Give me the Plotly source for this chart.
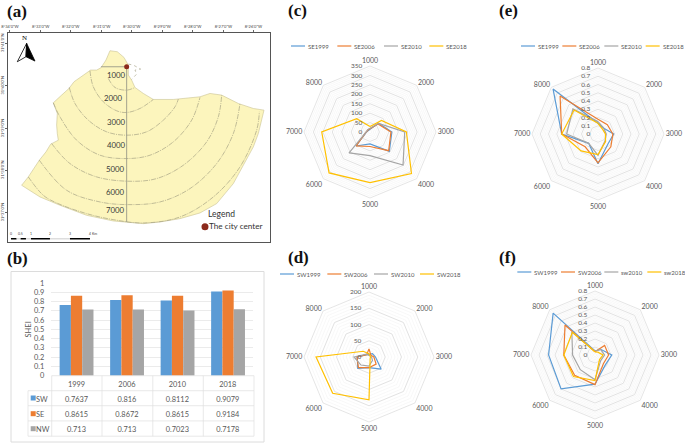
import plotly.graph_objects as go

W, H = 685, 444

# (a) map, in reference crop units (3x zoom of the picture)
boundary_x = [330, 352, 372, 385, 385, 395, 405, 430, 460, 520, 600, 630, 665, 715, 760, 792, 775, 760, 700, 650, 600, 540, 480, 430, 340, 260, 180, 120, 65, 85, 118, 138, 152, 175, 172, 170, 172, 160, 185, 207, 222, 245, 272, 290, 303, 318, 330]
boundary_y = [152, 155, 172, 195, 225, 240, 262, 280, 298, 298, 290, 280, 285, 310, 325, 330, 400, 440, 550, 610, 638, 655, 665, 670, 662, 645, 615, 590, 555, 530, 480, 455, 432, 420, 400, 375, 340, 308, 285, 265, 245, 228, 210, 210, 203, 180, 152]
ring1000_x = [325, 345, 380, 405]
ring1000_y = [235, 262, 270, 262]
ring2000_x = [270, 280, 310, 350, 380, 420, 460]
ring2000_y = [212, 260, 305, 332, 337, 325, 298]
ring3000_x = [208, 225, 265, 320, 380, 440, 490, 525, 535]
ring3000_y = [262, 310, 360, 395, 405, 395, 360, 320, 297]
ring4000_x = [160, 180, 230, 300, 380, 450, 520, 575, 600]
ring4000_y = [308, 350, 420, 465, 475, 465, 425, 360, 292]
ring5000_x = [155, 210, 290, 390, 470, 550, 620, 655, 665]
ring5000_y = [430, 490, 530, 543, 535, 495, 425, 350, 285]
ring6000_x = [118, 200, 300, 385, 480, 570, 650, 700, 720]
ring6000_y = [480, 570, 605, 613, 605, 565, 490, 400, 310]
ring7000_x = [85, 130, 170, 260, 340, 430, 540, 640, 720, 770, 778]
ring7000_y = [530, 585, 608, 640, 658, 668, 650, 590, 500, 390, 335]
rings = [(ring1000_x, ring1000_y), (ring2000_x, ring2000_y), (ring3000_x, ring3000_y), (ring4000_x, ring4000_y),
         (ring5000_x, ring5000_y), (ring6000_x, ring6000_y), (ring7000_x, ring7000_y)]
loop_x = [385, 400, 422, 405, 410, 395]
loop_y = [192, 195, 207, 210, 222, 238]
axis_x = [303, 380, 380]
axis_y = [200, 200, 665]
center_x = [380]
center_y = [200]
ring_labels = ["1000", "2000", "3000", "4000", "5000", "6000", "7000"]
ring_label_x = [350, 341, 349, 349, 347, 346, 347]
ring_label_y = [225, 294, 365, 434, 506, 574, 630]
lon_ticks = [30, 122, 212, 305, 395, 487, 578, 670, 760]
lon_labels = ["8°34'0\"W", "8°33'0\"W", "8°32'0\"W", "8°31'0\"W", "8°30'0\"W", "8°29'0\"W", "8°28'0\"W", "8°27'0\"W", "8°26'0\"W"]
lat_ticks = [130, 257, 385, 510, 637]
lat_labels = ["31°41'0\"N", "31°40'0\"N", "31°39'0\"N", "31°38'0\"N", "31°37'0\"N"]

# (b) SHEI
years = ["1999", "2006", "2010", "2018"]
shei_sw = [0.7637, 0.816, 0.8112, 0.9079]
shei_se = [0.8615, 0.8672, 0.8615, 0.9184]
shei_nw = [0.713, 0.713, 0.7023, 0.7178]
row_names = ["SW", "SE", "NW"]

distances = ["1000", "2000", "3000", "4000", "5000", "6000", "7000", "8000"]

# (c)
se_area_1999 = [15, 65, 116, 145, 63, 105, 18, 12]
se_area_2006 = [17, 60, 111, 140, 77, 104, 20, 15]
se_area_2010 = [20, 65, 184, 248, 125, 157, 20, 18]
se_area_2018 = [29, 86, 193, 311, 268, 307, 256, 100]
# (d)
sw_area_1999 = [8, 15, 20, 53, 33, 49, 36, 10]
sw_area_2006 = [25, 8, 15, 31, 33, 46, 37, 10]
sw_area_2010 = [5, 5, 8, 15, 28, 35, 46, 12]
sw_area_2018 = [10, 5, 5, 5, 132, 158, 163, 25]
# (e)
se_shei_1999 = [0.13, 0.1, 0.19, 0.17, 0.36, 0.16, 0.44, 0.77]
se_shei_2006 = [0.18, 0.16, 0.18, 0.22, 0.35, 0.22, 0.44, 0.65]
se_shei_2010 = [0.15, 0.1, 0.1, 0.12, 0.26, 0.16, 0.38, 0.43]
se_shei_2018 = [0.13, 0.08, 0.09, 0.13, 0.25, 0.29, 0.44, 0.41]
# (f)
sw_shei_1999 = [0.05, 0.1, 0.21, 0.18, 0.365, 0.6, 0.58, 0.74]
sw_shei_2006 = [0.04, 0.17, 0.17, 0.15, 0.37, 0.36, 0.39, 0.53]
sw_shei_2010 = [0.05, 0.1, 0.12, 0.1, 0.31, 0.26, 0.28, 0.41]
sw_shei_2018 = [0.04, 0.05, 0.1, 0.08, 0.32, 0.38, 0.39, 0.4]

BLUE, ORANGE, GRAY, YELLOW = "#5b9bd5", "#ed7d31", "#a5a5a5", "#ffc000"
TEXT = "#595959"
RULE = "#e0e0e0"
FONT = "Lato, Open Sans, sans-serif"


def px(x):
    return x / W


def py(y):
    return 1 - y / H


fig = go.Figure()

# (a)
fig.add_trace(go.Scatter(x=boundary_x, y=boundary_y, mode="lines", fill="toself", fillcolor="#fcf5bd",
                         line=dict(color="#c9c294", width=0.6), xaxis="x", yaxis="y", hoverinfo="skip"))
for rx, ry in rings:
    fig.add_trace(go.Scatter(x=rx, y=ry, mode="lines",
                             line=dict(color="#85826f", width=0.5, dash="5px,1px,1px,1px", shape="spline"),
                             xaxis="x", yaxis="y", hoverinfo="skip"))
fig.add_trace(go.Scatter(x=loop_x, y=loop_y, mode="lines", line=dict(color="#a09c80", width=0.6, dash="dot"), xaxis="x", yaxis="y"))
fig.add_trace(go.Scatter(x=axis_x, y=axis_y, mode="lines", line=dict(color="#9a9a88", width=0.9), xaxis="x", yaxis="y"))
fig.add_trace(go.Scatter(x=center_x, y=center_y, mode="markers", marker=dict(color="#8c2a1c", size=5), xaxis="x", yaxis="y"))
fig.add_trace(go.Scatter(x=[615], y=[679], mode="markers", marker=dict(color="#8c2a1c", size=7), xaxis="x", yaxis="y"))
# north arrow
fig.add_trace(go.Scatter(x=[80, 52, 78, 80], y=[130, 185, 170, 130], mode="lines", fill="toself", fillcolor="white",
                         line=dict(color="black", width=0.8), xaxis="x", yaxis="y"))
fig.add_trace(go.Scatter(x=[80, 105, 78, 80], y=[130, 183, 170, 130], mode="lines", fill="toself", fillcolor="black",
                         line=dict(color="black", width=0.8), xaxis="x", yaxis="y"))
# scale bar
for x0, x1, c in [(33, 50, "black"), (50, 62, "#dddddd"), (62, 78, "black"), (78, 93, "#dddddd"), (93, 150, "black"), (150, 210, "#dddddd"), (210, 270, "black")]:
    fig.add_trace(go.Scatter(x=[x0, x1], y=[715, 715], mode="lines", line=dict(color=c, width=1.5), xaxis="x", yaxis="y"))

fig.update_layout(
    xaxis=dict(domain=[px(8.3), px(270)], range=[25, 810], side="top", tickvals=lon_ticks, ticktext=lon_labels,
               tickfont=dict(size=4, color="#444444", family=FONT), ticks="outside", ticklen=2, tickcolor="#666666", showgrid=False, zeroline=False,
               showline=True, linecolor="#555555", linewidth=1, mirror=True),
    yaxis=dict(domain=[py(242), py(32.7)], range=[725, 98], anchor="x", tickvals=lat_ticks, ticktext=lat_labels, tickangle=-90,
               tickfont=dict(size=4, color="#444444", family=FONT), ticks="outside", ticklen=2, tickcolor="#666666", showgrid=False, zeroline=False,
               showline=True, linecolor="#555555", linewidth=1, mirror=True),
)

# (b)
for name, vals, col in [("SW", shei_sw, BLUE), ("SE", shei_se, ORANGE), ("NW", shei_nw, GRAY)]:
    fig.add_trace(go.Bar(x=years, y=vals, name=name, marker=dict(color=col, line=dict(width=0)), xaxis="x2", yaxis="y2"))
fig.update_layout(
    barmode="group", bargap=0.33, bargroupgap=0,
    xaxis2=dict(domain=[px(51.3), px(253.3)], anchor="y2", showticklabels=False, ticks="", showline=False),
    yaxis2=dict(domain=[py(375.7), py(283)], anchor="x2", range=[0, 1], dtick=0.1, gridcolor="#ebebeb", gridwidth=0.7, zeroline=False,
                tickfont=dict(size=7.4, color=TEXT, family=FONT), ticks="", ticklabelstandoff=6,
                title=dict(text="SHEI", font=dict(size=7.5, color=TEXT, family=FONT), standoff=1)),
)
# table text sits low in its cells, so the table is raised and its rules are drawn as shapes
fig.add_trace(go.Table(
    domain=dict(x=[px(28), px(253.3)], y=[py(433), py(373)]),
    columnwidth=[23.3, 50.5, 50.5, 50.5, 50.5],
    header=dict(values=[""] + years, height=15, align="center", fill_color="rgba(0,0,0,0)",
                line=dict(color="rgba(0,0,0,0)", width=0), font=dict(size=7.4, color=TEXT, family=FONT)),
    cells=dict(values=[row_names] + [[a, b, c] for a, b, c in zip(shei_sw, shei_se, shei_nw)],
               height=15, align=["left", "center", "center", "center", "center"], fill_color="rgba(0,0,0,0)",
               line=dict(color="rgba(0,0,0,0)", width=0), font=dict(size=7.4, color=TEXT, family=FONT)),
))

# radar panels: name, series, center, radius, max, dtick, minor step, legend entries
panels = [
    ("polar", (370, 132), 66, 350, 50, 10, [se_area_1999, se_area_2006, se_area_2010, se_area_2018],
     ["SE1999", "SE2006", "SE2010", "SE2018"], 280, 46, [33, 172, 312, 448]),
    ("polar2", (369, 357), 65, 200, 50, 10, [sw_area_1999, sw_area_2006, sw_area_2010, sw_area_2018],
     ["SW1999", "SW2006", "SW2010", "SW2018"], 280, 274, [0, 142, 282, 420]),
    ("polar3", (598, 134), 66, 0.8, 0.1, 0.02, [se_shei_1999, se_shei_2006, se_shei_2010, se_shei_2018],
     ["SE1999", "SE2006", "SE2010", "SE2018"], 485, 46, [108, 232, 358, 482]),
    ("polar4", (595, 355), 64, 0.8, 0.1, 0.02, [sw_shei_1999, sw_shei_2006, sw_shei_2010, sw_shei_2018],
     ["SW1999", "SW2006", "sw2010", "sw2018"], 485, 272, [97, 228, 358, 487]),
]
shapes = [dict(type="rect", xref="paper", yref="paper", x0=px(11), x1=px(264), y0=py(442), y1=py(271.5),
               line=dict(color="#dcdcdc", width=1), layer="below")]
# table rules
for x0, y0, x1, y1 in [(51.7, 375.7, 254, 375.7), (28, 390.7, 254, 390.7), (28, 405.7, 254, 405.7), (28, 420.9, 254, 420.9), (28, 436.2, 254, 436.2),
                       (28, 390.7, 28, 436.2), (51.7, 375.7, 51.7, 436.2), (102, 375.7, 102, 436.2), (152.8, 375.7, 152.8, 436.2),
                       (203.3, 375.7, 203.3, 436.2), (254, 375.7, 254, 436.2)]:
    shapes.append(dict(type="line", xref="paper", yref="paper", x0=px(x0), x1=px(x1), y0=py(y0), y1=py(y1),
                       line=dict(color=RULE, width=0.7), layer="above"))
# colour keys of the table rows
for col, ky in [(BLUE, 398), (ORANGE, 413.7), (GRAY, 428.7)]:
    shapes.append(dict(type="rect", xref="paper", yref="paper", x0=px(30.7), x1=px(35.7), y0=py(ky + 2.5), y1=py(ky - 2.5),
                       fillcolor=col, line=dict(width=0), layer="above"))
notes = []
for key, (cx, cy), radius, rmax, dtick, minor, series, names, xoff, ly, lx in panels:
    # faint minor rings under the data
    minor_r, minor_theta = [], []
    for i in range(1, round(rmax / minor)):
        if i % round(dtick / minor):
            minor_r += [i * minor] * 9 + [None]
            minor_theta += distances + distances[:1] + [None]
    fig.add_trace(go.Scatterpolar(r=minor_r, theta=minor_theta, mode="lines", line=dict(color="#f1f1f1", width=0.5),
                                  subplot=key, hoverinfo="skip"))
    for vals, name, col in zip(series, names, [BLUE, ORANGE, GRAY, YELLOW]):
        fig.add_trace(go.Scatterpolar(r=vals + vals[:1], theta=distances + distances[:1], name=name, mode="lines",
                                      line=dict(color=col, width=1.2), subplot=key))
    fig.layout[key] = dict(
        domain=dict(x=[px(cx - radius), px(cx + radius)], y=[py(cy + radius), py(cy - radius)]),
        gridshape="linear", bgcolor="white",
        angularaxis=dict(direction="clockwise", rotation=90, categoryorder="array", categoryarray=distances,
                         tickfont=dict(size=7, color=TEXT, family=FONT), showgrid=False, ticks="",
                         showline=True, linecolor="#dedede", linewidth=0.8),
        # the invisible ticks only push the labels away from the axis
        radialaxis=dict(range=[0, rmax], dtick=dtick, angle=90, side="counterclockwise", tickangle=90, showline=False,
                        ticks="outside", ticklen=5, tickcolor="rgba(0,0,0,0)",
                        gridcolor="#e2e2e2", gridwidth=0.8, tickfont=dict(size=6.5, color=TEXT, family=FONT)),
    )
    for x0, name, col in zip(lx, names, [BLUE, ORANGE, GRAY, YELLOW]):
        shapes.append(dict(type="line", xref="paper", yref="paper", x0=px(xoff + x0 / 3), x1=px(xoff + x0 / 3 + 14),
                           y0=py(ly), y1=py(ly), line=dict(color=col, width=1.2)))
        notes.append(dict(text=name, x=px(xoff + x0 / 3 + 15), y=py(ly), xref="paper", yref="paper", xanchor="left", yanchor="middle",
                          showarrow=False, font=dict(size=6, color=TEXT, family=FONT)))

# map texts, on the map axes
for label, tx, ty in zip(ring_labels, ring_label_x, ring_label_y):
    notes.append(dict(text=label, x=tx, y=ty, xref="x", yref="y", showarrow=False, font=dict(size=7.8, color="#3a3a3a", family=FONT)))
notes.append(dict(text="N", x=75, y=115, xref="x", yref="y", showarrow=False, font=dict(size=7, color="black", family="Liberation Serif")))
notes.append(dict(text="Legend", x=665, y=640, xref="x", yref="y", showarrow=False, font=dict(size=8.5, color="#333333", family=FONT)))
notes.append(dict(text="The city center", x=707, y=676, xref="x", yref="y", showarrow=False, font=dict(size=8.2, color="#333333", family=FONT)))
for x0, label in [(33, "0"), (62, "0.5"), (93, "1"), (150, "2"), (210, "3"), (270, "4"), (283, "Km")]:
    notes.append(dict(text=label, x=x0, y=701, xref="x", yref="y", showarrow=False, font=dict(size=3.5, color="#444444", family=FONT)))
# panel letters
for letter, lx_, ly_ in [("(a)", 17, 12), ("(b)", 17, 258), ("(c)", 297, 11), ("(d)", 298, 257), ("(e)", 508, 11), ("(f)", 507, 257)]:
    notes.append(dict(text=f"<b>{letter}</b>", x=px(lx_), y=py(ly_), xref="paper", yref="paper", xanchor="center", yanchor="middle", showarrow=False,
                      font=dict(size=17, color="#111111", family="Liberation Serif")))

fig.update_layout(
    width=W, height=H, margin=dict(l=0, r=0, t=0, b=0, autoexpand=False), paper_bgcolor="white", plot_bgcolor="white",
    showlegend=False, shapes=shapes, annotations=notes, font=dict(family=FONT),
)

fig.write_html("out.html", post_script="document.body.style.margin='0';", config={"displayModeBar": False})
